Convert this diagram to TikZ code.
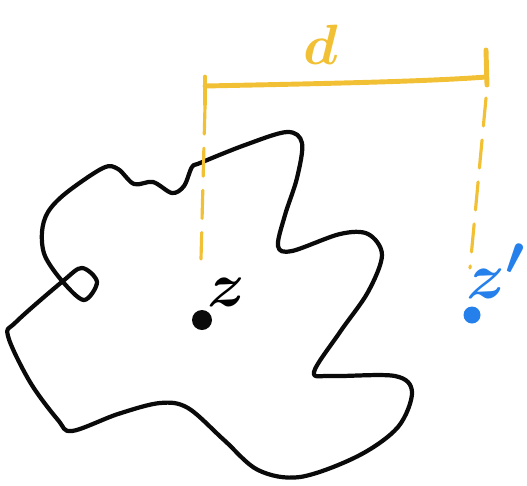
\documentclass[tikz,border=0pt]{standalone}
\usepackage{tikz}
\usetikzlibrary{positioning,calc}
\definecolor{SketchInk}{RGB}{10,10,10}
\definecolor{SketchGold}{RGB}{242,192,52}
\definecolor{SketchBlue}{RGB}{38,128,235}
\tikzset{
  contorno/.style={SketchInk, line width=2.4pt, line join=round, line cap=round},
  regua/.style={SketchGold, line width=2.8pt, line cap=round},
  guia/.style={SketchGold, line width=1.8pt, line cap=round, dash pattern=on 16pt off 8pt},
  ponto/.style={circle, inner sep=0pt, minimum size=0.4cm},
  rotulo/.style={inner sep=0pt, font=\Huge\boldmath},
}
\begin{document}
\begin{tikzpicture}[x=0.02cm, y=-0.02cm]
  \useasboundingbox (0,0) rectangle (527,485);

  % ------------------------------------------------------------------ regiao
  \draw[contorno] plot[smooth cycle, tension=0.55] coordinates {
    (200,163) (245,145) (287,132) (302,143) (297,178) (285,215) (278,246)
    (292,251) (340,234) (368,234) (382,255) (368,292) (340,332) (314,372)
    (332,376) (395,376) (412,392) (398,427) (358,456) (300,477) (258,470)
    (224,440) (188,408) (160,403) (118,414) (72,431) (58,420) (30,382)
    (8,336) (16,322) (63,281) (82,268) (97,282) (84,300) (63,282) (45,256)
    (42,232) (48,212) (66,193) (103,168) (118,169) (134,184) (153,182)
    (172,193) (184,186) (192,167)};

  % ------------------------------------------------------------------ pontos
  \node[ponto, fill=SketchInk] (z) at (202,320) {};
  \node[rotulo, scale=1.45] (zrot) at (226,292) {$z$};
  \node[ponto, fill=SketchBlue, minimum size=0.34cm] (zl) at (472,315) {};
  \node[rotulo, scale=1.5, text=SketchBlue] (zlrot) at (496,271) {$z'$};

  % ------------------------------------------------------------------ distancia d
  \coordinate (ra) at (205,86);
  \coordinate (rb) at (486,77);
  \draw[regua] (ra) .. controls (300,84) and (420,82) .. (rb);
  \draw[regua] ($(ra)+(0,-9)$) -- ($(ra)+(0,18)$);
  \draw[regua] ($(rb)+(0,-27)$) -- ($(rb)+(1,8)$);
  \node[rotulo, scale=1.3, text=SketchGold] (drot) at (321,45) {$d$};

  % guias tracejadas ate os pontos
  \coordinate (ga) at (205,106);
  \coordinate (gb) at (201,259);
  \coordinate (gc) at (486,98);
  \coordinate (gd) at (470,268);
  \draw[guia] (ga) -- (gb);
  \draw[guia] (gc) -- (gd);
\end{tikzpicture}
\end{document}
